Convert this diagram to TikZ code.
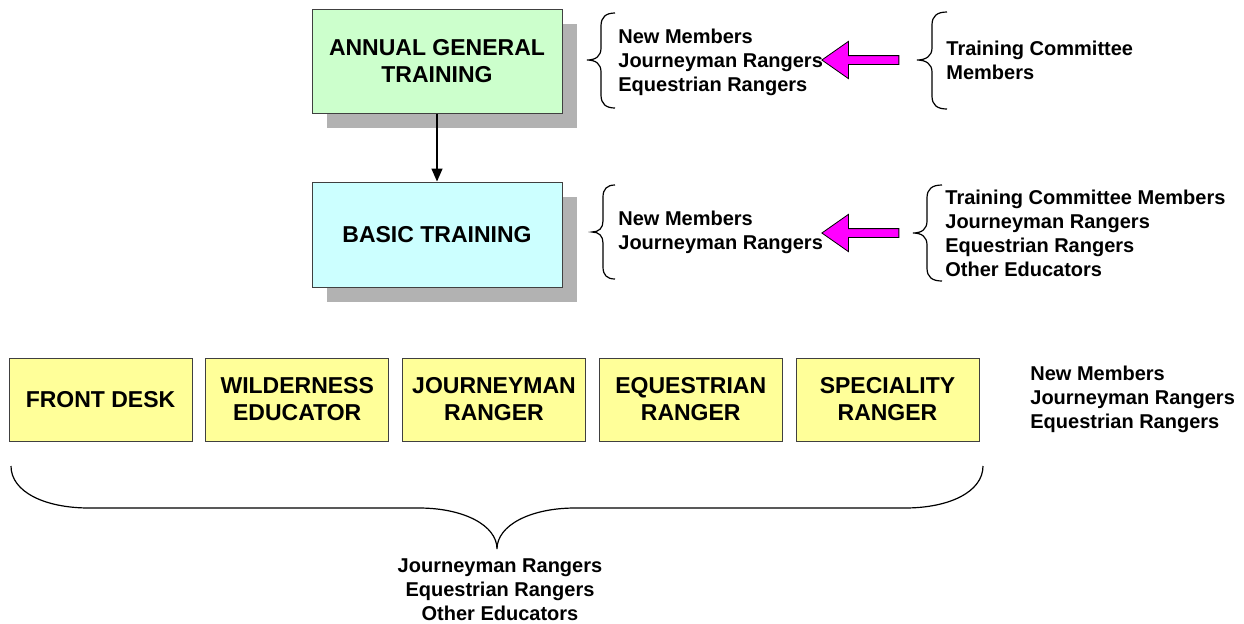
\documentclass[tikz,border=0pt]{standalone}
\usepackage{fontspec}
\setmainfont{Liberation Sans}
\usetikzlibrary{arrows.meta,shapes.arrows,shadows}
\definecolor{agtgreen}{RGB}{204,255,204}
\definecolor{btcyan}{RGB}{204,255,255}
\definecolor{roleyellow}{RGB}{255,255,153}
\definecolor{shadowgray}{RGB}{178,178,178}
\definecolor{pointpink}{RGB}{255,0,255}
\begin{document}
\begin{tikzpicture}[x=0.5pt,y=0.5pt,
	stage/.style={draw=black!75,line width=0.5pt,minimum width=125pt,align=center,
		font=\fontsize{11.5}{13.5}\selectfont\bfseries,
		drop shadow={shadow xshift=7.5pt,shadow yshift=-7.5pt,fill=shadowgray,opacity=1}},
	role/.style={draw=black!75,line width=0.5pt,fill=roleyellow,minimum width=91.5pt,minimum height=41.5pt,
		align=center,font=\fontsize{11.5}{13.5}\selectfont\bfseries},
	who/.style={align=left,anchor=west,font=\fontsize{10}{12}\selectfont\bfseries},
	curly/.style={draw=black,line width=0.6pt},
	pointer/.style={single arrow,draw=black,line width=0.4pt,fill=pointpink,inner sep=2pt,
		minimum height=38.5pt,minimum width=12.5pt,single arrow tip angle=70,shape border rotate=180},
	flow/.style={-{Triangle[length=6.5pt,width=5.5pt]},line width=0.7pt}]
				\tikzstyle{every node}+=[inner sep=0pt]
				\useasboundingbox (0,0) rectangle (1244,-623);
				% training stages
				\node [stage,fill=agtgreen,minimum height=52pt] (agt) at (437,-61) {ANNUAL GENERAL\\TRAINING};
				\node [stage,fill=btcyan,minimum height=52.5pt] (bt) at (437,-234.5) {BASIC TRAINING};
				\draw [flow] (agt) -- (bt);
				% who attends and who teaches
				\node [who] (agtgroup) at (618,-62) {New Members\\Journeyman Rangers\\Equestrian Rangers};
				\node [who] (agttutors) at (946,-60) {Training Committee\\Members};
				\node [who] (btgroup) at (618,-232) {New Members\\Journeyman Rangers};
				\node [who] (bttutors) at (945,-233) {Training Committee Members\\Journeyman Rangers\\Equestrian Rangers\\Other Educators};
				\node [pointer] (agtpointer) at (863.5,-60) {};
				\node [pointer] (btpointer) at (863.5,-233) {};
				\draw [curly] (615,-13) .. controls (606,-13) and (601,-17) .. (601,-26) -- (601,-48) .. controls (601,-56) and (596,-60) .. (587,-60) .. controls (596,-60) and (601,-64) .. (601,-72) -- (601,-95) .. controls (601,-104) and (606,-108) .. (615,-108);
				\draw [curly] (947,-12) .. controls (937,-12) and (932,-16) .. (932,-25) -- (932,-48) .. controls (932,-56) and (926,-60) .. (917,-60) .. controls (926,-60) and (932,-64) .. (932,-72) -- (932,-96) .. controls (932,-105) and (937,-109) .. (947,-109);
				\draw [curly] (615,-185) .. controls (607,-185) and (603,-189) .. (603,-197) -- (603,-221) .. controls (603,-228) and (599,-232) .. (592,-232) .. controls (599,-232) and (603,-236) .. (603,-243) -- (603,-267) .. controls (603,-275) and (607,-279) .. (615,-279);
				\draw [curly] (942,-185) .. controls (932,-185) and (927,-189) .. (927,-198) -- (927,-221) .. controls (927,-229) and (922,-233) .. (913,-233) .. controls (922,-233) and (927,-237) .. (927,-245) -- (927,-268) .. controls (927,-277) and (932,-281) .. (942,-281);
				% roles
				\node [role] (frontdesk) at (100.5,-399.5) {FRONT DESK};
				\node [role] (wilderness) at (297.25,-399.5) {WILDERNESS\\EDUCATOR};
				\node [role] (journeyman) at (494,-399.5) {JOURNEYMAN\\RANGER};
				\node [role] (equestrian) at (690.75,-399.5) {EQUESTRIAN\\RANGER};
				\node [role] (speciality) at (887.5,-399.5) {SPECIALITY\\RANGER};
				\node [who] (rolegroup) at (1030,-399) {New Members\\Journeyman Rangers\\Equestrian Rangers};
				\draw [curly] (11,-466) .. controls (11,-492) and (45,-508) .. (89,-508) -- (419,-508) .. controls (463,-508) and (497,-525) .. (497,-549) .. controls (497,-525) and (531,-508) .. (575,-508) -- (905,-508) .. controls (949,-508) and (983,-492) .. (983,-466);
				\node [who,anchor=center,align=center] (roletutors) at (500,-590) {Journeyman Rangers\\Equestrian Rangers\\Other Educators};
			\end{tikzpicture}
\end{document}
